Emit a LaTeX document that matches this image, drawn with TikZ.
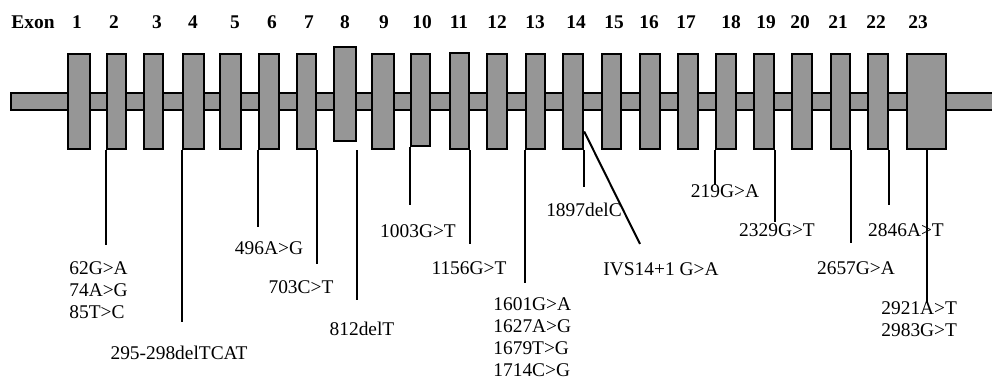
\documentclass[tikz,border=0pt]{standalone}
\usepackage{fontspec}
\setmainfont{Liberation Serif}
\usepackage{tikz}
\usetikzlibrary{positioning}
\definecolor{exongray}{RGB}{150,150,150}
\tikzset{
  bar/.style={rectangle, draw=black, fill=exongray, line width=1.2pt, inner sep=0pt},
  exon/.style={rectangle, draw=black, fill=exongray, line width=1.2pt, inner sep=0pt},
  hdr/.style={font=\fontsize{9.7}{11}\selectfont\bfseries, inner sep=0pt},
  mutl/.style={font=\fontsize{9.7}{11}\selectfont, inner sep=0pt, align=left},
  mut/.style={draw=black, line width=1pt}
}
\begin{document}
\begin{tikzpicture}[x=0.5pt, y=-0.5pt]
\useasboundingbox (0,0) rectangle (992,379);
% backbone and exons
\node[bar, minimum width=491pt, minimum height=8.5pt] (bb) at (502,101.5) {};
\foreach \i/\l/\r/\t/\b in {1/68/90/54/149, 2/107/126/54/149, 3/144/163/54/149,
    4/183/204/54/149, 5/220/241/54/149, 6/259/279/54/149, 7/297/316/54/149,
    8/334/356/47/141, 9/372/394/54/149, 10/411/430/54/146, 11/450/469/53/149,
    12/487/507/54/149, 13/526/545/54/149, 14/563/583/54/149, 15/602/621/54/149,
    16/640/660/54/149, 17/678/698/54/149, 18/716/736/54/149, 19/754/774/54/149,
    20/792/812/54/149, 21/831/850/54/149, 22/868/888/54/149, 23/907/946/54/149}{
  \pgfmathsetmacro\w{(\r-\l)*0.5}
  \pgfmathsetmacro\h{(\b-\t)*0.5}
  \node[exon, minimum width=\w pt, minimum height=\h pt] (e\i) at ({(\l+\r)/2},{(\t+\b)/2}) {};
}
% exon numbers
\node[hdr] (hx) at (33,22) {Exon};
\foreach \n/\x in {1/77, 2/114, 3/157, 4/193, 5/235, 6/272, 7/309, 8/345, 9/384,
    10/422, 11/459, 12/497, 13/535, 14/576, 15/614, 16/649, 17/686, 18/731,
    19/766, 20/800, 21/838, 22/876, 23/918}{
  \node[hdr] (h\n) at (\x,22) {\n};
}
% mutations
\node[mutl, anchor=north west] (m2) at (69,261) {62G>A\\74A>G\\85T>C};
\node[mutl] (m4) at (179,353) {295-298delTCAT};
\node[mutl] (m6) at (269,248) {496A>G};
\node[mutl] (m7) at (301,287) {703C>T};
\node[mutl] (m8) at (362,329) {812delT};
\node[mutl] (m10) at (418,231) {1003G>T};
\node[mutl] (m11) at (469,268) {1156G>T};
\node[mutl, anchor=north west] (m13) at (493,297) {1601G>A\\1627A>G\\1679T>G\\1714C>G};
\node[mutl] (m14) at (584,210) {1897delC};
\node[mutl] (m14i) at (661,269) {IVS14+1 G>A};
\node[mutl] (m18) at (725,191) {219G>A};
\node[mutl] (m19) at (777,230) {2329G>T};
\node[mutl] (m21) at (856,268) {2657G>A};
\node[mutl] (m22) at (906,230) {2846A>T};
\node[mutl, anchor=north west] (m23) at (881,301) {2921A>T\\2983G>T};
% leader lines
\coordinate (ivs) at (640,244);
\draw[mut] (e2.south west) -- (e2.south west |- 0,245);
\draw[mut] (e4.south west) -- (e4.south west |- 0,322);
\draw[mut] (e6.south west) -- (e6.south west |- 0,227);
\draw[mut] (e7.south east) -- (e7.south east |- 0,264);
\draw[mut] ([yshift=-4pt]e8.south east) -- (e8.south east |- 0,300);
\draw[mut] (e10.south west) -- (e10.south west |- 0,205);
\draw[mut] (e11.south east) -- (e11.south east |- 0,244);
\draw[mut] (e13.south west) -- (e13.south west |- 0,283);
\draw[mut] (e14.south east) -- (e14.south east |- 0,187);
\draw[mut] ([yshift=-15pt]e14.east) -- (ivs);
\draw[mut] (e18.south west) -- (e18.south west |- 0,185);
\draw[mut] (e19.south east) -- (e19.south east |- 0,222);
\draw[mut] (e21.south east) -- (e21.south east |- 0,243);
\draw[mut] (e22.south east) -- (e22.south east |- 0,205);
\draw[mut] (e23.south) -- (e23.south |- 0,303);
\end{tikzpicture}
\end{document}
